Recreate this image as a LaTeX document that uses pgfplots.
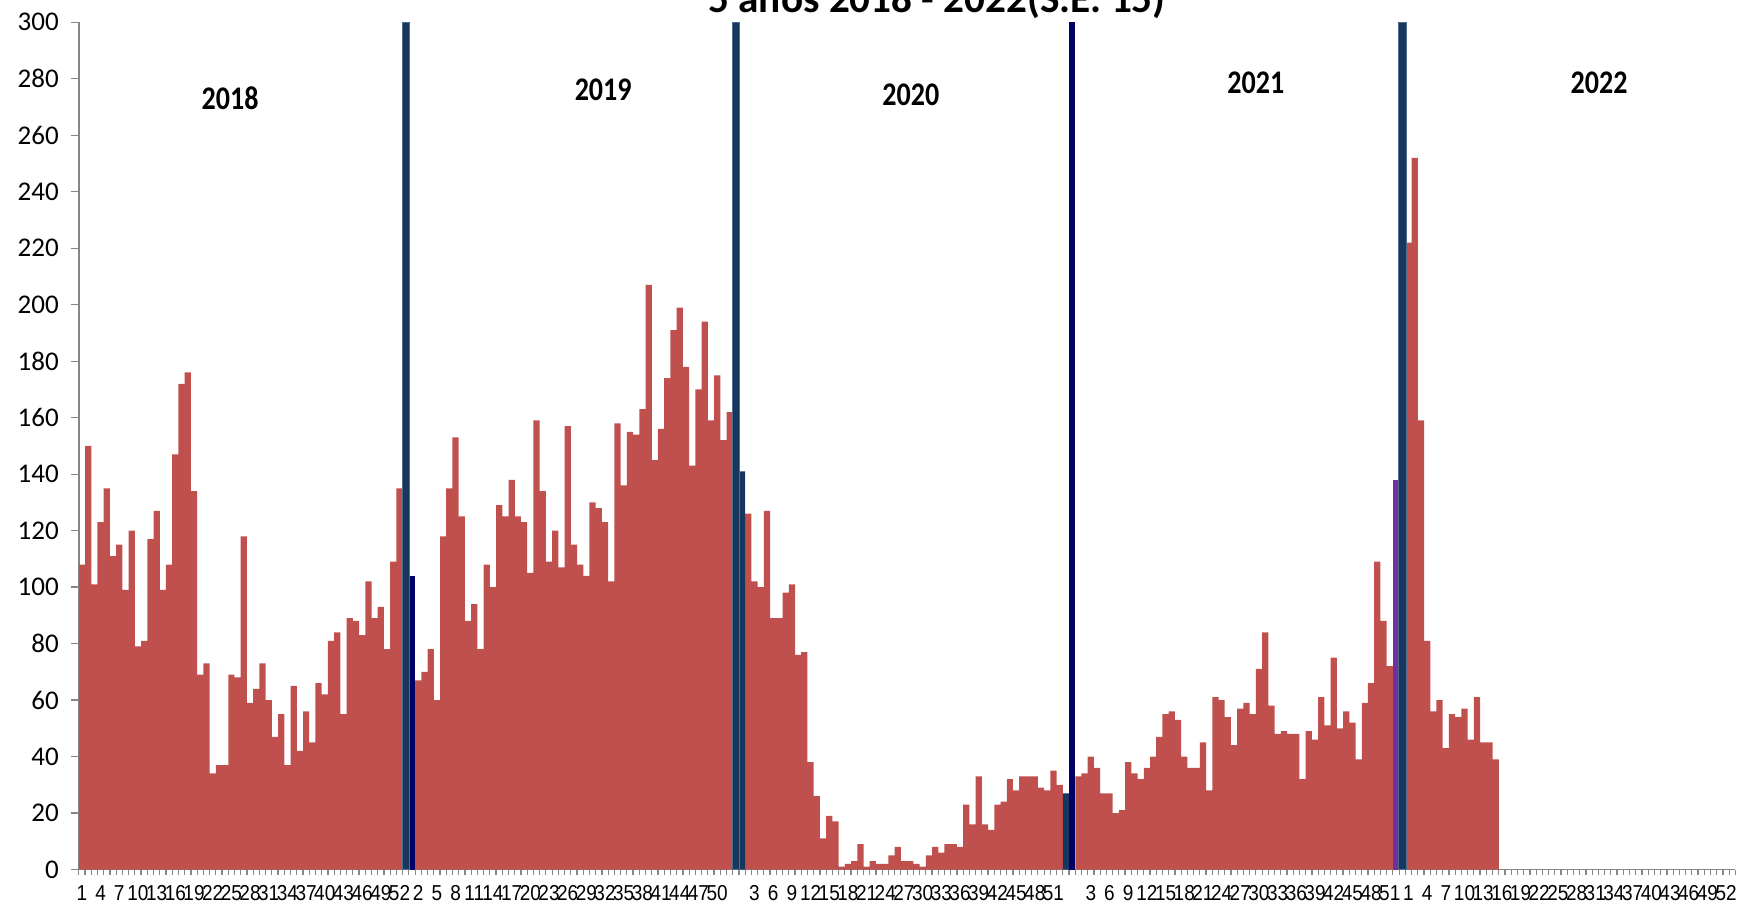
\documentclass[border=0pt]{standalone}
\usepackage{pgfplots}
\pgfplotsset{compat=1.18}
\usepackage{fontspec}
\setmainfont{Carlito}
\newfontfamily\ytfont{Carlito}
\newfontfamily\xtfont[FakeStretch=0.88]{Liberation Sans}
\newfontfamily\yearfont[FakeStretch=0.85]{Carlito}
\definecolor{redc}{HTML}{C0504D}
\definecolor{dblue}{HTML}{17375E}
\definecolor{navyc}{HTML}{000066}
\definecolor{purp}{HTML}{7030A0}
\definecolor{axgray}{HTML}{868686}
\definecolor{sepedge}{HTML}{4F6B8E}
\begin{document}
\begin{tikzpicture}
\begin{axis}[
  at={(0pt,0pt)}, anchor=south west,
  scale only axis, width=828.3pt, height=423.6pt,
  xmin=0.5, xmax=266.5, ymin=0, ymax=300,
  clip=false,
  axis lines=left,
  axis line style={-, draw=axgray, line width=0.8pt},
  tick align=outside,
  major tick length=4pt, minor tick length=2.5pt,
  tick style={axgray, line width=0.6pt},
  major x tick style={draw=none},
  ytick={0,20,...,300},
  /pgf/number format/assume math mode=true,
  yticklabel style={font=\ytfont\fontsize{13.5pt}{15pt}\selectfont, xshift=-2.5pt},
  xtick={1,4,...,265},
  minor xtick={0.5,1.5,...,266.5},
  xticklabels={1,4,7,10,13,16,19,22,25,28,31,34,37,40,43,46,49,52,
    2,5,8,11,14,17,20,23,26,29,32,35,38,41,44,47,50,{},
    3,6,9,12,15,18,21,24,27,30,33,36,39,42,45,48,51,{},
    3,6,9,12,15,18,21,24,27,30,33,36,39,42,45,48,51,
    1,4,7,10,13,16,19,22,25,28,31,34,37,40,43,46,49,52},
  xticklabel style={font=\xtfont\fontsize{10.8pt}{12pt}\selectfont, yshift=-0.5pt},
]
\addplot[ybar, bar width=1, bar shift=0pt, fill=redc, draw=none] table {
1 108
2 150
3 101
4 123
5 135
6 111
7 115
8 99
9 120
10 79
11 81
12 117
13 127
14 99
15 108
16 147
17 172
18 176
19 134
20 69
21 73
22 34
23 37
24 37
25 69
26 68
27 118
28 59
29 64
30 73
31 60
32 47
33 55
34 37
35 65
36 42
37 56
38 45
39 66
40 62
41 81
42 84
43 55
44 89
45 88
46 83
47 102
48 89
49 93
50 78
51 109
52 135
55 67
56 70
57 78
58 60
59 118
60 135
61 153
62 125
63 88
64 94
65 78
66 108
67 100
68 129
69 125
70 138
71 125
72 123
73 105
74 159
75 134
76 109
77 120
78 107
79 157
80 115
81 108
82 104
83 130
84 128
85 123
86 102
87 158
88 136
89 155
90 154
91 163
92 207
93 145
94 156
95 174
96 191
97 199
98 178
99 143
100 170
101 194
102 159
103 175
104 152
105 162
108 126
109 102
110 100
111 127
112 89
113 89
114 98
115 101
116 76
117 77
118 38
119 26
120 11
121 19
122 17
123 1
124 2
125 3
126 9
127 1
128 3
129 2
130 2
131 5
132 8
133 3
134 3
135 2
136 1
137 5
138 8
139 6
140 9
141 9
142 8
143 23
144 16
145 33
146 16
147 14
148 23
149 24
150 32
151 28
152 33
153 33
154 33
155 29
156 28
157 35
158 30
161 33
162 34
163 40
164 36
165 27
166 27
167 20
168 21
169 38
170 34
171 32
172 36
173 40
174 47
175 55
176 56
177 53
178 40
179 36
180 36
181 45
182 28
183 61
184 60
185 54
186 44
187 57
188 59
189 55
190 71
191 84
192 58
193 48
194 49
195 48
196 48
197 32
198 49
199 46
200 61
201 51
202 75
203 50
204 56
205 52
206 39
207 59
208 66
209 109
210 88
211 72
214 222
215 252
216 159
217 81
218 56
219 60
220 43
221 55
222 54
223 57
224 46
225 61
226 45
227 45
228 39
};
\addplot[ybar, bar width=1, bar shift=0pt, fill=navyc, draw=none] coordinates {(54,104)};
\addplot[ybar, bar width=1, bar shift=0pt, fill=dblue, draw=none] coordinates {(107,141) (159,27)};
\addplot[ybar, bar width=1, bar shift=0pt, fill=purp, draw=none] coordinates {(212,138)};
\addplot[ybar, bar width=1.2, bar shift=0pt, fill=dblue, draw=sepedge, line width=0.4pt] coordinates {(53,300) (106,300) (213,300)};
\addplot[ybar, bar width=1, bar shift=0pt, fill=navyc, draw=none] coordinates {(160,300)};
\node[font=\yearfont\bfseries\fontsize{16.5pt}{18pt}\selectfont] at (axis cs:24.8,273.2) {2018};
\node[font=\yearfont\bfseries\fontsize{16.5pt}{18pt}\selectfont] at (axis cs:84.7,276) {2019};
\node[font=\yearfont\bfseries\fontsize{16.5pt}{18pt}\selectfont] at (axis cs:134.1,274.3) {2020};
\node[font=\yearfont\bfseries\fontsize{16.5pt}{18pt}\selectfont] at (axis cs:189.5,278.7) {2021};
\node[font=\yearfont\bfseries\fontsize{16.5pt}{18pt}\selectfont] at (axis cs:244.6,278.7) {2022};
\node[anchor=base, inner sep=0pt, font=\bfseries\fontsize{20.6pt}{23pt}\selectfont] at (axis cs:138.3,303.3) {5 años 2018 - 2022(S.E. 15)};
\end{axis}
\pgfresetboundingbox
\useasboundingbox (-39.4pt,-19.75pt) rectangle (834.6pt,434.75pt);
\end{tikzpicture}
\end{document}
